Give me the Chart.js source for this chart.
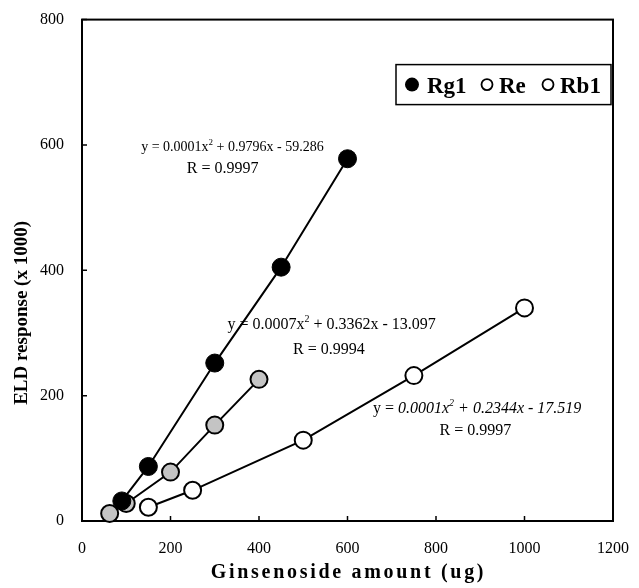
<!DOCTYPE html>
<html>
<head>
<meta charset="utf-8">
<script src="https://cdn.jsdelivr.net/npm/chart.js@4.4.1/dist/chart.umd.min.js"></script>
<style>
    body { margin: 0; background: #fff; }
    canvas { display: block; }
</style>
</head>
<body>
<canvas id="graph" width="639" height="588"></canvas>
<script>
// values
const rg1Amount = [90, 150, 300, 450, 600];
const rg1Response = [32, 87, 252, 405, 578];
const reAmount = [62.5, 100, 200, 300, 400];
const reResponse = [12, 28, 78, 153, 226];
const rb1Amount = [150, 250, 500, 750, 1000];
const rb1Response = [22, 49, 129, 232, 340];

const xTicks = [0, 200, 400, 600, 800, 1000, 1200];
const xTickLabels = ['0', '200', '400', '600', '800', '1000', '1200'];
const yTicks = [0, 200, 400, 600, 800];
const yTickLabels = ['0', '200', '400', '600', '800'];

const seriesNames = ['Rg1', 'Re', 'Rb1'];
const fitEquations = [
    ['y = 0.0001x', '2', ' + 0.9796x - 59.286'],
    ['y = 0.0007x', '2', ' + 0.3362x - 13.097'],
    ['y = 0.0001x', '2', ' + 0.2344x - 17.519']
];
const fitR = ['R = 0.9997', 'R = 0.9994', 'R = 0.9997'];

const SERIF = '"Liberation Serif", "DejaVu Serif", serif';

function points(xs, ys){
    return xs.map((x, i) => ({ x: x, y: ys[i] }));
}

// where the equation labels sit, in data units (centre, baseline)
const eqPlace = [
    { eq: [340, 590], r: [318, 556], size: 14, italic: false },
    { eq: [564, 306], r: [558, 267], size: 16, italic: false },
    { eq: [893, 173], r: [889, 137], size: 16, italic: true }
];

function drawEquation(ctx, parts, cx, cy, size, italic){
    const style = italic ? 'italic ' : '';
    // "y =" stays upright even in the italic one
    const head = italic ? 'y = ' : '';
    const body0 = italic ? parts[0].slice(4) : parts[0];
    const pieces = [];
    if (head) pieces.push({ t: head, f: size + 'px ' + SERIF, dy: 0 });
    pieces.push({ t: body0, f: style + size + 'px ' + SERIF, dy: 0 });
    pieces.push({ t: parts[1], f: style + Math.round(size * 0.62) + 'px ' + SERIF, dy: -size * 0.42 });
    pieces.push({ t: parts[2], f: style + size + 'px ' + SERIF, dy: 0 });

    let total = 0;
    pieces.forEach(p => { ctx.font = p.f; p.w = ctx.measureText(p.t).width; total += p.w; });
    let x = cx - total / 2;
    ctx.textAlign = 'left';
    ctx.textBaseline = 'alphabetic';
    pieces.forEach(p => {
        ctx.font = p.f;
        ctx.fillText(p.t, x, cy + p.dy);
        x += p.w;
    });
}

const decorations = {
    id: 'decorations',
    beforeDatasetsDraw(chart){
        const ctx = chart.ctx;
        const area = chart.chartArea;
        const xs = chart.scales.x;
        const ys = chart.scales.y;
        ctx.save();
        ctx.strokeStyle = '#000';
        ctx.lineWidth = 2;
        ctx.strokeRect(area.left, area.top, area.right - area.left, area.bottom - area.top);

        // small inward tick marks
        ctx.lineWidth = 1.5;
        ctx.beginPath();
        xTicks.forEach(v => {
            const px = xs.getPixelForValue(v);
            ctx.moveTo(px, area.bottom);
            ctx.lineTo(px, area.bottom - 5);
        });
        yTicks.forEach(v => {
            const py = ys.getPixelForValue(v);
            ctx.moveTo(area.left, py);
            ctx.lineTo(area.left + 5, py);
        });
        ctx.stroke();

        // equations and R values
        ctx.fillStyle = '#000';
        eqPlace.forEach((p, i) => {
            drawEquation(ctx, fitEquations[i], xs.getPixelForValue(p.eq[0]), ys.getPixelForValue(p.eq[1]), p.size, p.italic);
            ctx.font = '16px ' + SERIF;
            ctx.textAlign = 'center';
            ctx.fillText(fitR[i], xs.getPixelForValue(p.r[0]), ys.getPixelForValue(p.r[1]));
        });
        ctx.restore();
    },
    afterDraw(chart){
        const ctx = chart.ctx;
        const area = chart.chartArea;
        ctx.save();

        // axis titles
        ctx.fillStyle = '#000';
        ctx.font = 'bold 20px ' + SERIF;
        ctx.textAlign = 'center';
        ctx.textBaseline = 'alphabetic';
        if ('letterSpacing' in ctx) ctx.letterSpacing = '2.7px';
        ctx.fillText('Ginsenoside amount (ug)', (area.left + area.right) / 2 + 1, 578);
        if ('letterSpacing' in ctx) ctx.letterSpacing = '0px';

        ctx.translate(22, area.top + (area.bottom - area.top) * 0.585);
        ctx.rotate(-Math.PI / 2);
        ctx.font = 'bold 19px ' + SERIF;
        ctx.textBaseline = 'middle';
        ctx.fillText('ELD response (x 1000)', 0, 0);
        ctx.restore();

        // legend box in the upper right
        ctx.save();
        const bx = area.left + 314, by = area.top + 45, bw = area.right - 2 - bx, bh = 40;
        ctx.fillStyle = '#fff';
        ctx.fillRect(bx, by, bw, bh);
        ctx.strokeStyle = '#000';
        ctx.lineWidth = 1.5;
        ctx.strokeRect(bx, by, bw, bh);

        const cy = by + bh / 2;
        const items = [
            { cx: bx + 16, filled: true, tx: bx + 31 },
            { cx: bx + 91, filled: false, tx: bx + 103 },
            { cx: bx + 152, filled: false, tx: bx + 164 }
        ];
        ctx.font = 'bold 23px ' + SERIF;
        ctx.textBaseline = 'middle';
        ctx.textAlign = 'left';
        items.forEach((it, i) => {
            ctx.beginPath();
            if (it.filled){
                ctx.arc(it.cx, cy, 7, 0, Math.PI * 2);
                ctx.fillStyle = '#000';
                ctx.fill();
            }else{
                ctx.arc(it.cx, cy, 5.5, 0, Math.PI * 2);
                ctx.lineWidth = 1.8;
                ctx.stroke();
            }
            ctx.fillStyle = '#000';
            ctx.fillText(seriesNames[i], it.tx, cy + 2);
        });
        ctx.restore();
    }
};

const ctx = document.getElementById('graph');
new Chart(ctx, {
    type: 'scatter',
    data: {
        datasets: [
            {
                label: seriesNames[0],
                data: points(rg1Amount, rg1Response),
                showLine: true,
                borderColor: '#000',
                borderWidth: 2,
                pointRadius: 9,
                pointBackgroundColor: '#000',
                pointBorderColor: '#000',
                pointBorderWidth: 1,
                clip: false
            },
            {
                label: seriesNames[1],
                data: points(reAmount, reResponse),
                showLine: true,
                borderColor: '#000',
                borderWidth: 2,
                pointRadius: 8.5,
                pointBackgroundColor: '#c4c4c4',
                pointBorderColor: '#000',
                pointBorderWidth: 2,
                clip: false
            },
            {
                label: seriesNames[2],
                data: points(rb1Amount, rb1Response),
                showLine: true,
                borderColor: '#000',
                borderWidth: 2,
                pointRadius: 8.5,
                pointBackgroundColor: '#fff',
                pointBorderColor: '#000',
                pointBorderWidth: 2,
                clip: false
            }
        ]
    },
    options: {
        responsive: false,
        animation: false,
        devicePixelRatio: 1,
        layout: { padding: { left: 0, top: 17, right: 17, bottom: 0 } },
        plugins: {
            legend: { display: false },
            tooltip: { enabled: false }
        },
        scales: {
            x: {
                type: 'linear',
                min: 0,
                max: 1200,
                afterBuildTicks: s => { s.ticks = xTicks.map(v => ({ value: v })); },
                afterFit: s => { s.height = 67; },
                grid: { display: false },
                border: { display: false },
                ticks: {
                    color: '#000',
                    padding: 10,
                    maxRotation: 0,
                    font: { family: SERIF, size: 16 },
                    callback: (value, i) => xTickLabels[i]
                }
            },
            y: {
                type: 'linear',
                min: 0,
                max: 800,
                afterBuildTicks: s => { s.ticks = yTicks.map(v => ({ value: v })); },
                afterFit: s => { s.width = 82; },
                grid: { display: false },
                border: { display: false },
                ticks: {
                    color: '#000',
                    padding: 10,
                    font: { family: SERIF, size: 16 },
                    callback: (value, i) => yTickLabels[i]
                }
            }
        }
    },
    plugins: [decorations]
});
</script>
</body>
</html>
